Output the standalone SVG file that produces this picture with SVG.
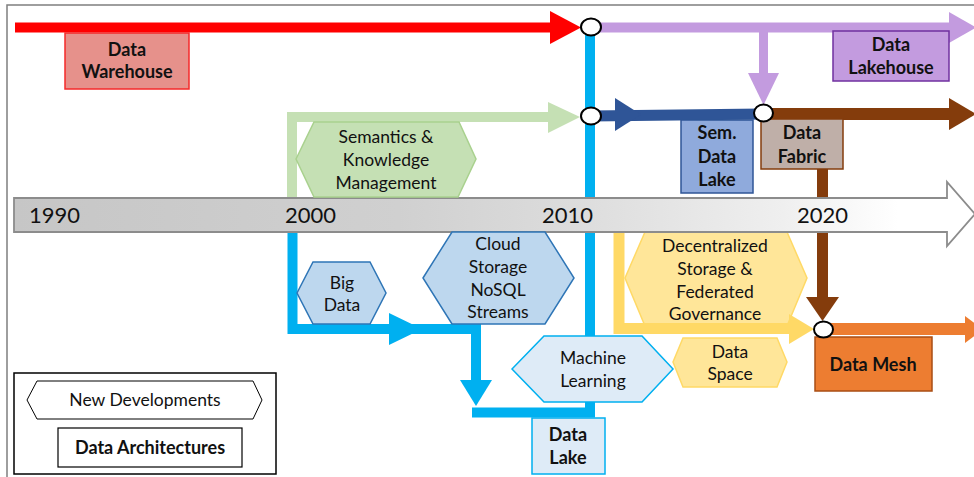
<svg xmlns="http://www.w3.org/2000/svg" width="974" height="477" viewBox="0 0 974 477">
<defs>
<linearGradient id="tlg" gradientUnits="userSpaceOnUse" x1="14" y1="0" x2="975" y2="0">
<stop offset="0" stop-color="#C6C6C6"/>
<stop offset="0.4" stop-color="#D0D0D0"/>
<stop offset="0.58" stop-color="#DCDCDC"/>
<stop offset="0.8" stop-color="#EFEFEF"/>
<stop offset="0.92" stop-color="#FFFFFF"/>
</linearGradient>
<style>
text{font-family:Lato,"Liberation Sans",sans-serif;fill:#111;text-anchor:middle}
.r{font-size:17.5px}
.b{font-size:18px;font-weight:bold}
.yr{font-size:22px;text-anchor:start}
.ln{fill:none;stroke-linejoin:miter;stroke-linecap:butt}
.jn{fill:#fff;stroke:#000;stroke-width:2}
</style>
</defs>
<rect x="7" y="5" width="990" height="490" fill="#fff" stroke="#7F7F7F" stroke-width="1.5"/>

<g id="n-decentralized">
<polygon points="625,278 645,232 787,232 807,278 787,326 645,326" fill="#FFE699" stroke="#FFD966" stroke-width="1.5"/>
<text class="r" x="715" y="252">Decentralized</text>
<text class="r" x="715" y="275">Storage &amp;</text>
<text class="r" x="715" y="298">Federated</text>
<text class="r" x="715" y="320">Governance</text>
</g>

<g id="connectors">
<line class="ln" x1="15" y1="27.5" x2="551" y2="27.5" stroke="#FF0000" stroke-width="10"/>
<polygon points="550,11 581,27.5 550,44" fill="#FF0000"/>
<line class="ln" x1="591" y1="27.5" x2="950" y2="27.5" stroke="#C39BDF" stroke-width="10"/>
<polygon points="949,12 976,27.5 949,43" fill="#C39BDF"/>
<line class="ln" x1="763.5" y1="30" x2="763.5" y2="74" stroke="#C39BDF" stroke-width="9"/>
<polygon points="748,73 763.5,105 779,73" fill="#C39BDF"/>
<polyline class="ln" points="292,198 292,117 549,117" stroke="#C5E0B4" stroke-width="10"/>
<polygon points="548,102 580,117 548,133" fill="#C5E0B4"/>
<line class="ln" x1="591" y1="116" x2="763" y2="114" stroke="#2F5597" stroke-width="11"/>
<polygon points="615,98 641,114.5 615,131" fill="#2F5597"/>
<line class="ln" x1="763" y1="114" x2="950" y2="114" stroke="#843C0C" stroke-width="12"/>
<polygon points="949,98 976,114 949,130" fill="#843C0C"/>
<line class="ln" x1="822.5" y1="168" x2="822.5" y2="298" stroke="#843C0C" stroke-width="11"/>
<polygon points="806,297 822.5,321 839,297" fill="#843C0C"/>
<polyline class="ln" points="472,412.5 590,412.5 590,27" stroke="#00B0F0" stroke-width="10"/>
<polyline class="ln" points="292.5,232 292.5,329 476,329 476,381" stroke="#00B0F0" stroke-width="10"/>
<polygon points="389,313 422,329 389,345" fill="#00B0F0"/>
<polygon points="460,380 476,406 492,380" fill="#00B0F0"/>
<polyline class="ln" points="619,231 619,328.5 791,328.5" stroke="#FFD966" stroke-width="11"/>
<polygon points="789,314 814,329 789,344" fill="#FFD966"/>
<line class="ln" x1="823" y1="329" x2="966" y2="329" stroke="#ED7D31" stroke-width="12"/>
<polygon points="965,316 983,329.5 965,343" fill="#ED7D31"/>
</g>

<g id="timeline">
<path d="M14,198 H947 V182 L975,214 L947,246 V232 H14 Z" fill="url(#tlg)" stroke="#8C8C8C" stroke-width="1.8"/>
<text class="yr" x="29" y="223">1990</text>
<text class="yr" x="285" y="223">2000</text>
<text class="yr" x="542" y="223">2010</text>
<text class="yr" x="797" y="223">2020</text>
</g>

<g id="n-warehouse">
<rect x="65" y="33" width="124" height="56" fill="#E6918B" stroke="#F52A2A" stroke-width="1.5"/>
<text class="b" x="127" y="56">Data</text>
<text class="b" x="127" y="78">Warehouse</text>
</g>
<g id="n-lakehouse">
<rect x="833" y="31" width="116" height="50" fill="#C39BDF" stroke="#7030A0" stroke-width="1.5"/>
<text class="b" x="891" y="51">Data</text>
<text class="b" x="891" y="74">Lakehouse</text>
</g>
<g id="n-semantics">
<polygon points="296,159 314,122 459,122 476,159 458,197 314,197" fill="#C5E0B4" stroke="#A9D18E" stroke-width="1.5"/>
<text class="r" x="386" y="143">Semantics &amp;</text>
<text class="r" x="386" y="166">Knowledge</text>
<text class="r" x="386" y="189">Management</text>
</g>
<g id="n-semdatalake">
<rect x="681" y="120" width="72" height="73" fill="#8FAADC" stroke="#2F5597" stroke-width="1.5"/>
<text class="b" x="717" y="139">Sem.</text>
<text class="b" x="717" y="163">Data</text>
<text class="b" x="717" y="186">Lake</text>
</g>
<g id="n-fabric">
<rect x="761" y="119" width="82" height="50" fill="#BFAFA8" stroke="#843C0C" stroke-width="1.5"/>
<text class="b" x="802" y="139">Data</text>
<text class="b" x="802" y="163">Fabric</text>
</g>
<g id="n-bigdata">
<polygon points="297,293 313,262 370,262 386,293 370,324 313,324" fill="#BDD7EE" stroke="#2E75B6" stroke-width="1.5"/>
<text class="r" x="342" y="289">Big</text>
<text class="r" x="342" y="311">Data</text>
</g>
<g id="n-cloud">
<polygon points="423,278 452,232 545,232 574,278 545,324 452,324" fill="#BDD7EE" stroke="#2E75B6" stroke-width="1.5"/>
<text class="r" x="498" y="250">Cloud</text>
<text class="r" x="498" y="273">Storage</text>
<text class="r" x="498" y="296">NoSQL</text>
<text class="r" x="498" y="318">Streams</text>
</g>
<g id="n-ml">
<polygon points="512,369 544,336 642,336 673,369 642,402 544,402" fill="#DEEBF7" stroke="#00B0F0" stroke-width="1.5"/>
<text class="r" x="593" y="364">Machine</text>
<text class="r" x="593" y="387">Learning</text>
</g>
<g id="n-dataspace">
<polygon points="673,362 683,338 777,338 787,362 777,387 683,387" fill="#FFE699" stroke="#FFD966" stroke-width="1.5"/>
<text class="r" x="730" y="358">Data</text>
<text class="r" x="730" y="380">Space</text>
</g>
<g id="n-datalake">
<rect x="532" y="418" width="73" height="56" fill="#DEEBF7" stroke="#00B0F0" stroke-width="1.5"/>
<text class="b" x="568" y="441">Data</text>
<text class="b" x="568" y="464">Lake</text>
</g>
<g id="n-datamesh">
<rect x="815" y="337" width="117" height="54" fill="#ED7D31" stroke="#A94E14" stroke-width="1.5"/>
<text class="b" x="873" y="371">Data Mesh</text>
</g>

<g id="junctions">
<ellipse class="jn" cx="591" cy="27" rx="10" ry="8.5"/>
<ellipse class="jn" cx="591" cy="116" rx="10" ry="8.5"/>
<ellipse class="jn" cx="763.5" cy="113" rx="9.5" ry="8.5"/>
<ellipse class="jn" cx="823.5" cy="329.5" rx="9.5" ry="8"/>
</g>

<g id="legend">
<rect x="14" y="373" width="262" height="101" fill="#fff" stroke="#000" stroke-width="1.5"/>
<polygon points="27,400 37,381 253,381 262,400 253,419 37,419" fill="#fff" stroke="#000" stroke-width="1"/>
<text class="r" x="145" y="406">New Developments</text>
<rect x="58" y="428" width="184" height="39" fill="#fff" stroke="#000" stroke-width="1.2"/>
<text class="b" x="150" y="454">Data Architectures</text>
</g>
</svg>
